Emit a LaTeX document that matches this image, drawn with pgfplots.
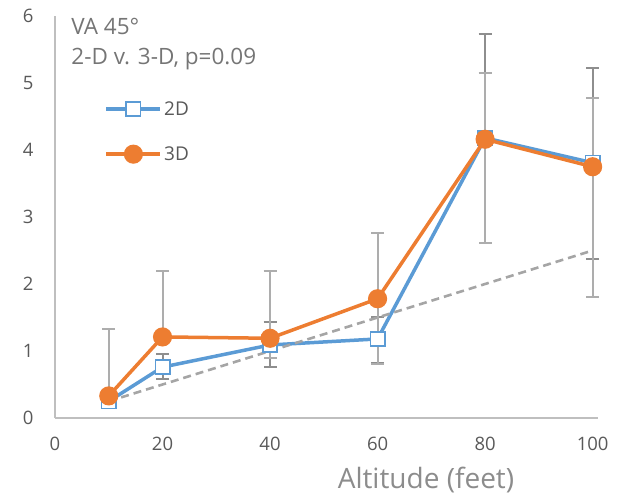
\documentclass[border=0pt]{standalone}
\usepackage{pgfplots}
\pgfplotsset{compat=1.18}
\usepackage{pgfplotstable}
\usepackage{fontspec}
\setmainfont{Open Sans}
\definecolor{sblue}{HTML}{5B9BD5}
\definecolor{sorange}{HTML}{ED7D31}
\definecolor{axgray}{HTML}{BFBFBF}
\definecolor{tickgray}{HTML}{595959}
\definecolor{titlegray}{HTML}{757575}
\definecolor{labgray}{HTML}{8C8C8C}
\definecolor{errdark}{HTML}{8E8E8E}
\definecolor{errlight}{HTML}{ADADAD}
\definecolor{dashgray}{HTML}{A5A5A5}

\pgfplotstableread{
x y ep em
10 0.25 0.10 0.10
20 0.76 0.19 0.18
40 1.09 0.34 0.33
60 1.18 0.33 0.36
80 4.18 1.55 1.57
100 3.81 1.41 1.44
}\twoD
\pgfplotstableread{
x y ep em
10 0.33 1.00 0.00
20 1.21 0.99 0.00
40 1.19 1.00 0.30
60 1.78 0.98 0.98
80 4.16 0.99 1.55
100 3.75 1.03 1.94
}\threeD
\pgfplotstableread{
x y
10 0.25
100 2.50
}\trend

\begin{document}
\begin{tikzpicture}
\useasboundingbox (-55pt,-80pt) rectangle (574pt,418pt);
\begin{axis}[
  at={(0pt,0pt)}, anchor=south west,
  scale only axis, width=543pt, height=402pt,
  xmin=0, xmax=101, ymin=0, ymax=6,
  xtick={0,20,40,60,80,100}, ytick={0,1,2,3,4,5,6},
  axis x line*=bottom, axis y line*=left,
  axis line style={draw=axgray, line width=1.3pt, -},
  major tick length=0pt,
  /pgf/number format/assume math mode=true,
  tick label style={font=\fontsize{18.5}{18.5}\selectfont, text=tickgray},
  xticklabel style={yshift=-16pt},
  yticklabel style={xshift=-18pt},
  clip=false,
  legend style={at={(axis cs:9.2,4.76)}, anchor=north west, draw=none, fill=none,
    font=\fontsize{19}{19}\selectfont, text=tickgray, row sep=26pt, inner sep=0pt,
    nodes={inner sep=2pt}},
  legend cell align=left,
  legend image code/.code={\draw[mark repeat=2,mark phase=2,#1] plot coordinates {(0pt,0pt) (27pt,0pt) (54pt,0pt)};},
]
% error bars (drawn first, behind lines)
\addplot[draw=none, mark=none, forget plot,
  error bars/.cd, y dir=both, y explicit,
  error bar style={draw=errdark, line width=2pt, solid},
  error mark options={draw=errdark, rotate=90, mark size=6.5pt, line width=2pt}]
  table[x=x, y=y, y error plus=ep, y error minus=em] {\twoD};
\addplot[draw=none, mark=none, forget plot,
  error bars/.cd, y dir=both, y explicit,
  error bar style={draw=errlight, line width=2pt, solid},
  error mark options={draw=errlight, rotate=90, mark size=6.5pt, line width=2pt}]
  table[x=x, y=y, y error plus=ep, y error minus=em] {\threeD};
% 2D series
\addplot[sblue, line width=3.5pt, mark=square*, mark size=7.2pt,
  mark options={fill=white, draw=sblue, line width=1.6pt, solid}]
  table[x=x, y=y] {\twoD};
\addlegendentry{2D}
% trend line
\addplot[dashgray, line width=2.6pt, dash pattern=on 8pt off 5pt, mark=none, forget plot]
  table[x=x, y=y] {\trend};
% 3D series
\addplot[sorange, line width=3.5pt, mark=*, mark size=7.8pt,
  mark options={fill=sorange, draw=sorange, solid}]
  table[x=x, y=y] {\threeD};
\addlegendentry{3D}
\node[anchor=base west, font=\fontsize{22.5}{22.5}\selectfont, text=titlegray] at (axis cs:2.4,5.72) {VA 45°};
\node[anchor=base west, font=\fontsize{22.5}{22.5}\selectfont, text=titlegray] at (axis cs:2.4,5.27) {2-D v. 3-D, p=0.09};
\node[anchor=center, font=\fontsize{28}{28}\selectfont, text=labgray] at (axis cs:69,-0.93) {Altitude (feet)};
\end{axis}
\end{tikzpicture}
\end{document}
